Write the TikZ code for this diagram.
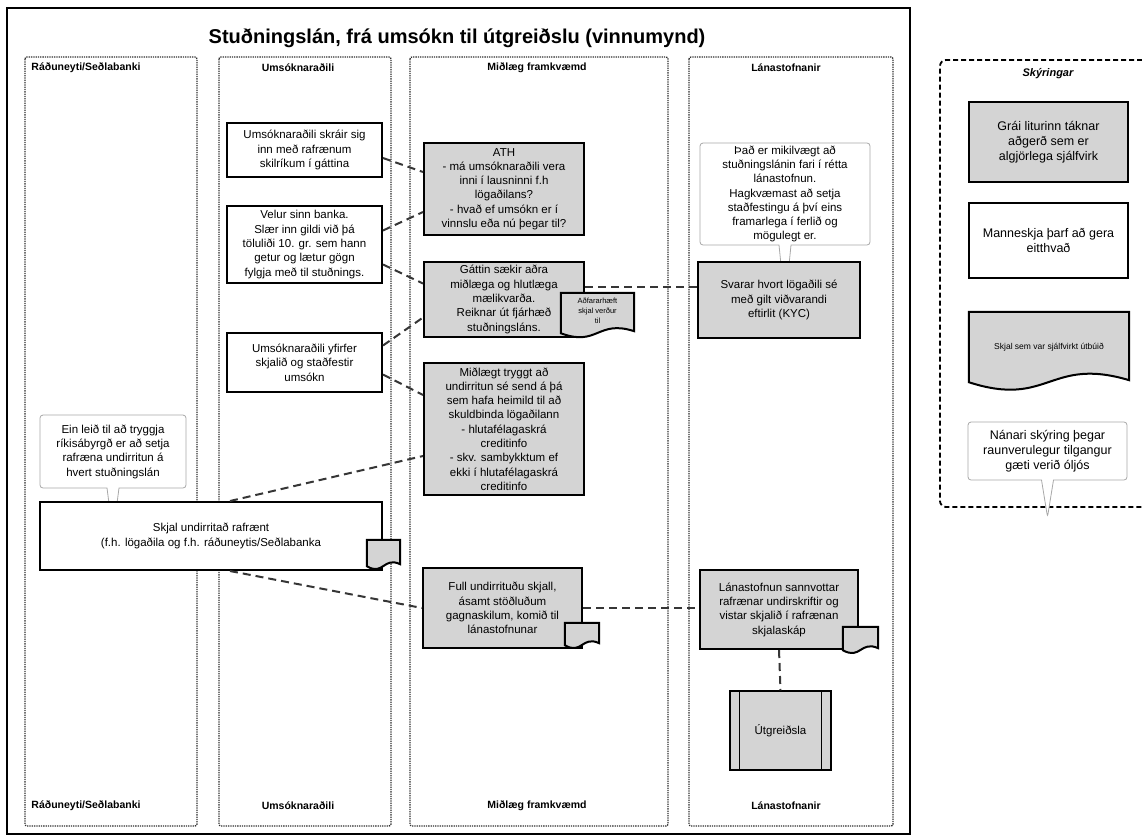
\documentclass[tikz,border=0pt]{standalone}
\usepackage{fontspec}
\setmainfont{Liberation Sans}
\usetikzlibrary{shapes.callouts, calc, positioning}
\definecolor{procfill}{HTML}{D4D4D4}
\definecolor{linkgray}{HTML}{363636}
\definecolor{notegray}{HTML}{A8A8A8}
\definecolor{lanegray}{HTML}{2E2E2E}
\newcommand{\boxfont}{\fontsize{11.5}{14.3}\selectfont}
\newcommand{\legfont}{\fontsize{12.5}{15}\selectfont}
% document symbol: flat top, wavy bottom, drawn round an empty node
\newcommand{\docwave}[2]{%
  \draw[docu] (#1.north west) -- (#1.north east) -- ([yshift=2pt]#1.south east)
    .. controls ([yshift=#2]#1.south) and ([yshift=-#2]#1.south) .. (#1.south west) -- cycle;}

\begin{document}
\begin{tikzpicture}[x=1pt, y=-1pt,
    lane/.style={draw=lanegray, densely dotted, line width=1.3pt, rounded corners=2pt},
    head/.style={font=\fontsize{10.5}{12.5}\selectfont\bfseries},
    task/.style={draw=black, line width=2pt, fill=#1, align=center, inner sep=2pt, font=\boxfont},
    task/.default=white,
    note/.style={rectangle callout, draw=notegray, line width=0.8pt, rounded corners=3pt, fill=white,
                 align=center, inner sep=2pt, callout pointer width=12pt, font=\boxfont},
    docu/.style={draw=black, line width=2pt, fill=procfill},
    link/.style={draw=linkgray, line width=2pt, dash pattern=on 8pt off 5pt}
]
\useasboundingbox (0,0) rectangle (1142,839);

% Frame and title
\draw[line width=1.6pt] (7,8) rectangle (910,834);
\node[font=\fontsize{20}{23}\selectfont\bfseries] (title) at (457,38) {Stuðningslán, frá umsókn til útgreiðslu (vinnumynd)};

% Swimlanes
\draw[lane] (25,57) rectangle (197,826);
\draw[lane] (219,57) rectangle (391,826);
\draw[lane] (410,57) rectangle (668,826);
\draw[lane] (689,57) rectangle (893,826);
\node[head] (h1) at (86,68) {Ráðuneyti/Seðlabanki};
\node[head] (h2) at (298,68) {Umsóknaraðili};
\node[head] (h3) at (537,68) {Miðlæg framkvæmd};
\node[head] (h4) at (786,68) {Lánastofnanir};
\node[head] (f1) at (86,806) {Ráðuneyti/Seðlabanki};
\node[head] (f2) at (298,806) {Umsóknaraðili};
\node[head] (f3) at (537,806) {Miðlæg framkvæmd};
\node[head] (f4) at (786,806) {Lánastofnanir};

% Umsóknaraðili
\node[task, minimum width=155pt, minimum height=54pt] (login) at (304.5,150) {Umsóknaraðili skráir sig\\inn með rafrænum\\skilríkum í gáttina};
\node[task, minimum width=155pt, minimum height=77pt] (bank) at (304.5,244.5) {Velur sinn banka.\\Slær inn gildi við þá\\töluliði 10. gr. sem hann\\getur og lætur gögn\\fylgja með til stuðnings.};
\node[task, minimum width=155pt, minimum height=59pt] (review) at (304.5,362.5) {Umsóknaraðili yfirfer\\skjalið og staðfestir\\umsókn};

% Miðlæg framkvæmd
\node[task=procfill, minimum width=160pt, minimum height=92pt] (ath) at (504,189) {ATH\\- má umsóknaraðili vera\\inni í lausninni f.h\\lögaðilans?\\- hvað ef umsókn er í\\vinnslu eða nú þegar til?};
\node[task=procfill, minimum width=160pt, minimum height=75pt] (fetch) at (504,299.5) {Gáttin sækir aðra\\miðlæga og hlutlæga\\mælikvarða.\\Reiknar út fjárhæð\\stuðningsláns.};
\node[minimum width=73pt, minimum height=40pt, inner sep=0pt] (enfdoc) at (597.5,313) {};
\docwave{enfdoc}{14pt}
\node[font=\fontsize{7.5}{10}\selectfont, align=center] (enfdoc-t) at ([yshift=2pt]enfdoc.center) {Aðfararhæft\\skjal verður\\til};
\node[task=procfill, minimum width=160pt, minimum height=132pt] (signers) at (504,429) {Miðlægt tryggt að\\undirritun sé send á þá\\sem hafa heimild til að\\skuldbinda lögaðilann\\- hlutafélagaskrá\\creditinfo\\- skv. sambykktum ef\\ekki í hlutafélagaskrá\\creditinfo};
\node[task=procfill, minimum width=159pt, minimum height=80pt] (full) at (502.5,608) {Full undirrituðu skjall,\\ásamt stöðluðum\\gagnaskilum, komið til\\lánastofnunar};
\node[minimum width=34pt, minimum height=22pt, inner sep=0pt] (fulldoc) at (582,634) {};
\docwave{fulldoc}{10pt}

% Lánastofnanir
\node[note, minimum width=170pt, minimum height=102pt, callout relative pointer={(0,60)}] (bankhint) at (785,194) {Það er mikilvægt að\\stuðningslánin fari í rétta\\lánastofnun.\\Hagkvæmast að setja\\staðfestingu á því eins\\framarlega í ferlið og\\mögulegt er.};
\node[task=procfill, minimum width=162pt, minimum height=76pt] (kyc) at (779,300) {Svarar hvort lögaðili sé\\með gilt viðvarandi\\eftirlit (KYC)};
\node[task=procfill, minimum width=158pt, minimum height=79pt] (verify) at (779,609.5) {Lánastofnun sannvottar\\rafrænar undirskriftir og\\vistar skjalið í rafrænan\\skjalaskáp};
\node[minimum width=35pt, minimum height=23pt, inner sep=0pt] (verifydoc) at (860.5,638.5) {};
\docwave{verifydoc}{10pt}
\node[task=procfill, line width=1.2pt, minimum width=101pt, minimum height=79pt] (payout) at (780.5,730.5) {Útgreiðsla};
\draw[line width=1.2pt] ([xshift=10pt]payout.north west) -- ([xshift=10pt]payout.south west);
\draw[line width=1.2pt] ([xshift=-10pt]payout.north east) -- ([xshift=-10pt]payout.south east);

% Ráðuneyti/Seðlabanki
\node[note, minimum width=146pt, minimum height=73pt, callout relative pointer={(0,46)}] (statehint) at (113,451.5) {Ein leið til að tryggja\\ríkisábyrgð er að setja\\rafræna undirritun á\\hvert stuðningslán};
\node[task, minimum width=342pt, minimum height=68pt] (signed) at (211,536) {Skjal undirritað rafrænt\\(f.h. lögaðila og f.h. ráðuneytis/Seðlabanka};
\node[minimum width=33pt, minimum height=26pt, inner sep=0pt] (signeddoc) at (383.5,553) {};
\docwave{signeddoc}{10pt}

% Flow
\draw[link] ([yshift=-8pt]login.east) -- ([yshift=17pt]ath.west);
\draw[link] ([yshift=14pt]bank.east) -- ([yshift=-23pt]ath.west);
\draw[link] ([yshift=-20pt]bank.east) -- ([yshift=16pt]fetch.west);
\draw[link] ([yshift=17pt]review.east) -- ([yshift=-18pt]fetch.west);
\draw[link] ([yshift=-12pt]review.east) -- ([yshift=34pt]signers.west);
\draw[link] ([xshift=19pt]signed.north) -- ([yshift=-27pt]signers.west);
\draw[link] ([xshift=19pt]signed.south) -- (full.west);
\draw[link] ([yshift=13pt]fetch.east) -- ([yshift=13pt]fetch.east -| kyc.west);
\draw[link] (full.east) -- (full.east -| verify.west);
\draw[link] (verify.south) -- (payout.north);

% Legend
\draw[draw=black, line width=1.8pt, dash pattern=on 5pt off 3pt, rounded corners=6pt] (1142,60) -- (940,60) -- (940,507) -- (1142,507);
\node[font=\fontsize{11}{13}\selectfont\bfseries\itshape] (legtitle) at (1048,74) {Skýringar};
\node[task=procfill, font=\legfont, minimum width=159pt, minimum height=80pt] (leggray) at (1048.5,142) {Grái liturinn táknar\\aðgerð sem er\\algjörlega sjálfvirk};
\node[task, font=\legfont, minimum width=159pt, minimum height=75pt] (legwhite) at (1048.5,240.5) {Manneskja þarf að gera\\eitthvað};
\node[minimum width=160pt, minimum height=70pt, inner sep=0pt] (legdoc) at (1049,347) {};
\docwave{legdoc}{26pt}
\node[font=\fontsize{8.5}{10}\selectfont] (legdoc-t) at (legdoc.center) {Skjal sem var sjálfvirkt útbúið};
\node[note, font=\legfont, minimum width=159pt, minimum height=58pt, callout relative pointer={(0,37)}] (legnote) at (1047.5,451) {Nánari skýring þegar\\raunverulegur tilgangur\\gæti verið óljós};

\end{tikzpicture}
\end{document}
